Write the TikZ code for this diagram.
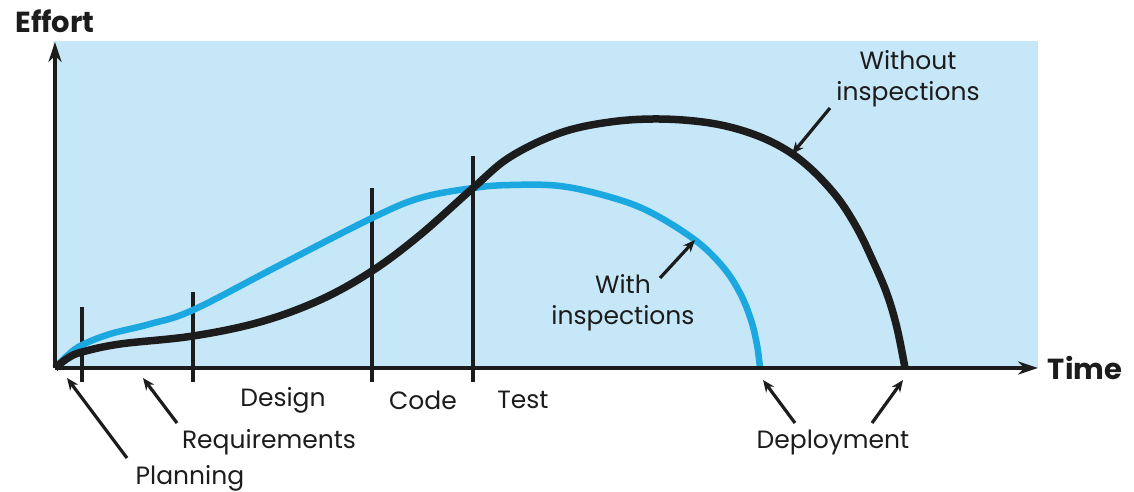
\documentclass[tikz,border=0pt]{standalone}
\usepackage{fontspec}
\setmainfont{Poppins}
\usetikzlibrary{arrows.meta}
\definecolor{bgblue}{HTML}{C6E7F7}
\definecolor{curveblue}{HTML}{1BA8E0}
\definecolor{ink}{HTML}{1C1C1C}
\begin{document}
\begin{tikzpicture}[x=1pt,y=-1pt,
  lbl/.style={font=\fontsize{25}{31}\selectfont, text=ink, inner sep=0pt, align=center},
  axlbl/.style={font=\fontsize{29}{33}\selectfont\bfseries, text=ink, inner sep=0pt},
  axis/.style={ink, line width=3.5pt, -{Stealth[length=20pt,width=13pt]}},
  tick/.style={ink, line width=3.4pt},
  pointer/.style={ink, line width=3.2pt, -{Stealth[length=12pt,width=10pt]}},
  without/.style={ink, line width=7.5pt, line join=round},
  withc/.style={curveblue, line width=6.5pt, line join=round}]
\useasboundingbox (0,0) rectangle (1134,491);
\fill[bgblue] (53,41) rectangle (1038,368);
% ticks
\draw[tick] (82,307) -- (82,382);
\draw[tick] (193,292) -- (193,382);
\draw[tick] (372,188) -- (372,382);
\draw[tick] (473,156) -- (473,382);
% curves
\draw[withc] plot[smooth, tension=0.6] coordinates {(55,368) (68,355) (82,345) (110,334) (150,324) (193,310) (280,265) (372,218) (420,198) (473,188) (510,185) (560,186) (610,197) (650,212) (695,240) (723,267) (740,293) (751,320) (757,345) (760,368)};
\draw[without] plot[smooth, tension=0.6] coordinates {(55,368) (68,358) (82,352) (120,344) (193,336) (260,322) (320,300) (372,271) (420,235) (473,188) (510,157) (560,133) (610,122) (660,119) (710,123) (750,133) (783,148) (810,168) (837,197) (857,228) (873,261) (887,294) (897,328) (905,368)};
% axes
\coordinate (O) at (55,368);
\coordinate (ytop) at (55,42);
\coordinate (xend) at (1038,368);
\draw[axis] (O) -- (ytop);
\draw[axis] (O) -- (xend);
\node[axlbl] (effort) at (55,21) {Effort};
\node[axlbl] (time) at (1085,368) {Time};
% phase labels
\node[lbl] (design) at (283,400) {Design};
\node[lbl] (code) at (423,400) {Code};
\node[lbl] (test) at (523,400) {Test};
\node[lbl] (req) at (269,442) {Requirements};
\node[lbl] (plan) at (190,478) {Planning};
\node[lbl] (deploy) at (833,442) {Deployment};
\node[lbl] (with) at (623,303) {With\\inspections};
\node[lbl] (without) at (908,79) {Without\\inspections};
% pointer targets
\coordinate (planT) at (67,378);
\coordinate (planS) at (127,458);
\coordinate (reqT) at (143,378);
\coordinate (reqS) at (177,423);
\coordinate (dep1T) at (763,380);
\coordinate (dep1S) at (795,423);
\coordinate (dep2T) at (903,380);
\coordinate (dep2S) at (872,423);
\coordinate (withT) at (695,240);
\coordinate (withS) at (660,278);
\coordinate (woT) at (792,154);
\coordinate (woS) at (830,108);
\draw[pointer] (planS) -- (planT);
\draw[pointer] (reqS) -- (reqT);
\draw[pointer] (dep1S) -- (dep1T);
\draw[pointer] (dep2S) -- (dep2T);
\draw[pointer] (withS) -- (withT);
\draw[pointer] (woS) -- (woT);
\end{tikzpicture}
\end{document}
